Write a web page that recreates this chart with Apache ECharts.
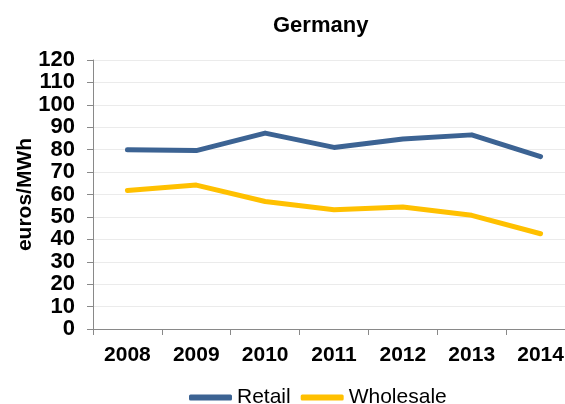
<!DOCTYPE html>
<html><head><meta charset="utf-8">
<script src="https://cdn.jsdelivr.net/npm/echarts@6/dist/echarts.min.js"></script>
<style>html,body{margin:0;padding:0;background:#fff;overflow:hidden;width:565px;height:404px}#c{width:575px;height:404px}</style>
</head><body><div id="c"></div>
<script>
var categories = ['2008','2009','2010','2011','2012','2013','2014'];
var retail = [80, 79.6, 87.4, 81, 84.8, 86.6, 76.9];
var wholesale = [61.8, 64.2, 56.9, 53.2, 54.4, 50.7, 42.5];
var yTicks = [0,10,20,30,40,50,60,70,80,90,100,110,120];

var chart = echarts.init(document.getElementById('c'), null, {renderer:'canvas'});
var font = '"Liberation Sans", Arial, sans-serif';
chart.setOption({
  animation: false,
  backgroundColor: '#fff',
  title: {
    text: 'Germany', left: 268, top: 10,
    textStyle: {fontFamily: font, fontWeight: 'bold', fontSize: 22, color: '#000'}
  },
  legend: {
    top: 382, left: 184,
    itemWidth: 43, itemHeight: 6, itemGap: 10,
    icon: 'roundRect',
    textStyle: {fontFamily: font, fontSize: 21, color: '#000'},
    data: ['Retail','Wholesale']
  },
  grid: {left: 93, top: 60, right: 0, bottom: 75, containLabel: false},
  xAxis: {
    type: 'category', data: categories, boundaryGap: true,
    axisLine: {lineStyle: {color: '#898989', width: 1}},
    axisTick: {show: true, alignWithLabel: false, length: 6, lineStyle: {color: '#898989'}},
    axisLabel: {fontFamily: font, fontWeight: 'bold', fontSize: 21, color: '#000', margin: 16},
    splitLine: {show: false}
  },
  yAxis: {
    type: 'value', min: yTicks[0], max: yTicks[yTicks.length-1], interval: 10,
    name: 'euros/MWh', nameLocation: 'middle', nameGap: 57, nameMoveOverlap: false,
    nameTextStyle: {fontFamily: font, fontWeight: 'bold', fontSize: 21, color: '#000'},
    axisLine: {show: true, lineStyle: {color: '#898989', width: 1}},
    axisTick: {show: true, length: 6, lineStyle: {color: '#898989'}},
    axisLabel: {fontFamily: font, fontWeight: 'bold', fontSize: 22, color: '#000', margin: 18},
    splitLine: {lineStyle: {color: '#ebebeb', width: 1}}
  },
  series: [
    {name: 'Retail', type: 'line', data: retail, symbol: 'none', color: '#3C6393',
     lineStyle: {width: 5, color: '#3C6393', cap: 'round', join: 'round'}},
    {name: 'Wholesale', type: 'line', data: wholesale, symbol: 'none', color: '#FFC000',
     lineStyle: {width: 5, color: '#FFC000', cap: 'round', join: 'round'}}
  ]
});
</script></body></html>
